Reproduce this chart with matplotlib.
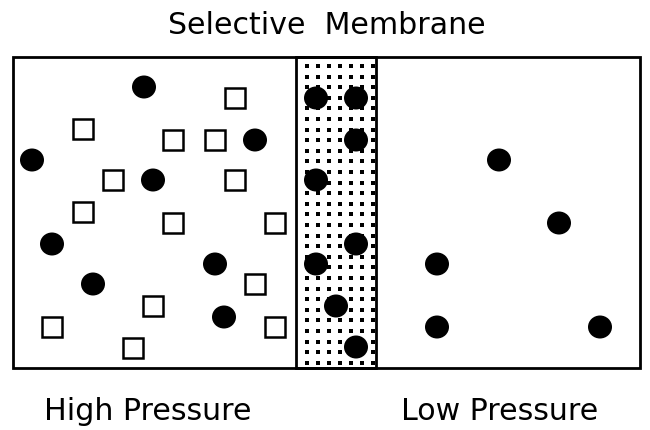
import numpy as np
import matplotlib
matplotlib.use("Agg")
import matplotlib.pyplot as plt
from matplotlib.patches import Rectangle, Ellipse

# particle positions in picture pixels (x, y from top)
high_circles_x = [144, 255, 32, 153, 52, 215, 93, 224]
high_circles_y = [87, 140, 160, 180, 244, 264, 284, 317]
high_squares_x = [235, 83, 173, 215, 113, 235, 83, 173, 275, 255, 153, 52, 275, 133]
high_squares_y = [98, 129, 140, 140, 180, 180, 212, 223, 223, 284, 306, 327, 327, 348]
membrane_circles_x = [316, 356, 356, 316, 356, 316, 336, 356]
membrane_circles_y = [98, 98, 140, 180, 244, 264, 306, 347]
low_circles_x = [499, 559, 437, 437, 600]
low_circles_y = [160, 223, 264, 327, 327]

title = "Selective  Membrane"
left_label = "High Pressure"
right_label = "Low Pressure"

fig = plt.figure(figsize=(6.5, 4.3), dpi=100)
ax = fig.add_axes([0, 0, 1, 1])
ax.set_xlim(0, 650)
ax.set_ylim(430, 0)
ax.axis("off")

lw = 2.0
# outer box and membrane
ax.add_patch(Rectangle((13, 57), 627, 311, fill=False, lw=lw, ec="black", zorder=3))
ax.add_patch(Rectangle((296, 57), 80, 311, fill=False, lw=lw, ec="black", zorder=3))

# dotted texture of the membrane
gx, gy = np.meshgrid(np.arange(307, 375, 11), np.arange(66, 366, 10.6))
ax.scatter(gx.ravel(), gy.ravel(), s=5.2, marker="s", c="black", lw=0, zorder=2)

def circles(xs, ys):
    for x, y in zip(xs, ys):
        ax.add_patch(Ellipse((x, y), 24, 23, fc="black", ec="none", zorder=4))

def squares(xs, ys):
    for x, y in zip(xs, ys):
        ax.add_patch(Rectangle((x - 10, y - 10), 20, 20, fill=False,
                               lw=1.8, ec="black", zorder=4))

circles(high_circles_x, high_circles_y)
squares(high_squares_x, high_squares_y)
circles(membrane_circles_x, membrane_circles_y)
circles(low_circles_x, low_circles_y)

fs = 21.6
ax.text(327, 34, title, fontsize=fs, ha="center", va="baseline", family="DejaVu Sans")
ax.text(148, 420, left_label, fontsize=fs, ha="center", va="baseline", family="DejaVu Sans")
ax.text(500, 420, right_label, fontsize=fs, ha="center", va="baseline", family="DejaVu Sans")

fig.savefig("out.png", dpi=100)
